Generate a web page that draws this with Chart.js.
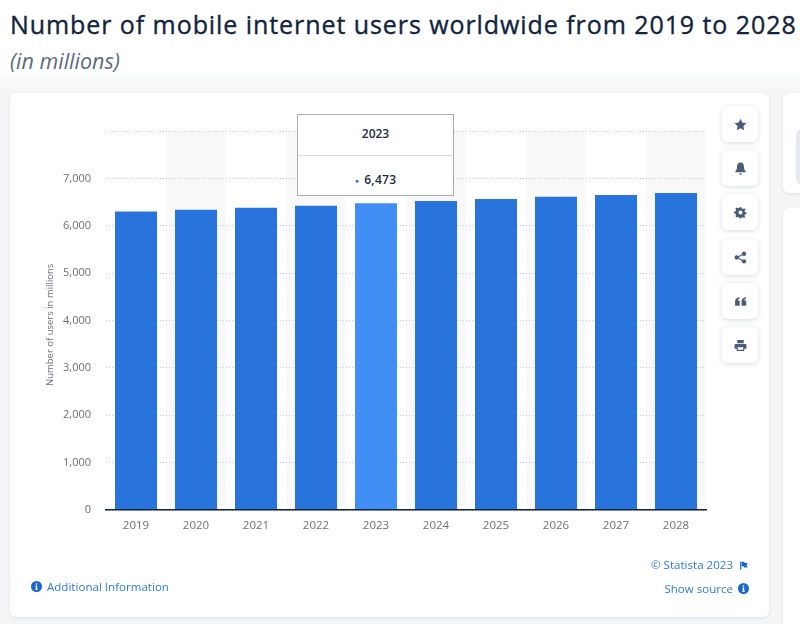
<!DOCTYPE html>
<html>
<head>
<meta charset="utf-8">
<title>Mobile internet users</title>
<script src="https://cdn.jsdelivr.net/npm/chart.js@4/dist/chart.umd.min.js"></script>
<style>
html,body{margin:0;padding:0;width:800px;height:624px;overflow:hidden;font-family:"Open Sans",sans-serif}
body{background:linear-gradient(#fff 0,#fff 68px,#f3f5f7 92px)}
.abs{position:absolute}
#title{left:10px;top:7px;font-size:25px;font-weight:400;-webkit-text-stroke:.35px #10243e;color:#10243e;white-space:nowrap;letter-spacing:.93px;line-height:34px}
#sub{left:10px;top:46px;font-size:21.5px;font-style:italic;font-weight:400;color:#5c6b80;line-height:30px}
.card{background:#fff;border-radius:6px;box-shadow:0 1px 3px rgba(120,135,155,.18)}
#chartCard{left:10px;top:93px;width:759px;height:524px}
#side1{left:783px;top:93px;width:40px;height:100px}
#side2{left:783px;top:208px;width:40px;height:430px}
#sideGrey{left:796px;top:129px;width:20px;height:56px;background:#e6eaef;border-radius:6px}
canvas{position:absolute;left:0;top:0}
#yTitle{left:44px;top:263px;height:124px;writing-mode:vertical-rl;transform:rotate(180deg);font-size:9.5px;line-height:12px;color:#6b6f76;white-space:nowrap;text-align:center}
#tip{left:297px;top:114px;width:155px;height:80px;background:#fff;border:1px solid #a9acb1;text-align:center;color:#1c2b3f;font-size:12px;font-weight:600}
#tipHead{height:40px;line-height:38px;border-bottom:1px solid #d6d9dd}
#tipVal{line-height:48px;letter-spacing:.3px}
#tipVal span{color:#2874dc;margin-right:5px;font-size:7px;vertical-align:1px}
.btn{left:722px;width:36px;height:36px;background:#fff;border-radius:6px;box-shadow:0 1px 5px rgba(120,135,155,.3);display:flex;align-items:center;justify-content:center}
.btn svg{width:13px;height:13px;fill:#4a5d78}
.link{font-size:11.5px;color:#2f78dc;white-space:nowrap;letter-spacing:.03px;line-height:16px}
.dot{width:11px;height:11px}
.dot svg{display:block}
</style>
</head>
<body>
<div class="abs" id="title">Number of mobile internet users worldwide from 2019 to 2028</div>
<div class="abs" id="sub">(in millions)</div>
<div class="abs card" id="chartCard"></div>
<div class="abs card" id="side1"></div>
<div class="abs" id="sideGrey"></div>
<div class="abs card" id="side2"></div>
<canvas id="usersChart" width="800" height="624"></canvas>
<div class="abs" id="yTitle"></div>
<div class="abs" id="tip"><div id="tipHead"></div><div id="tipVal"></div></div>

<div class="abs btn" style="top:106px"><svg viewBox="0 0 24 24"><path d="M12 1.5l3.3 7 7.7 1-5.6 5.3 1.4 7.7-6.8-3.7-6.8 3.7 1.4-7.7L1 9.500l7.700-1z"/></svg></div>
<div class="abs btn" style="top:150px"><svg viewBox="0 0 24 24"><path d="M12 1c4.500 0 6.500 3.500 6.500 8 0 4 1 6 3 8v2H2.500v-2c2-2 3-4 3-8 0-4.500 2-8 6.500-8zM9 21h6a3 2.500 0 0 1-6 0z"/></svg></div>
<div class="abs btn" style="top:194px"><svg viewBox="0 0 24 24"><path fill-rule="evenodd" d="M10 1h4l.6 3 2.400 1 2.600-1.700 2.800 2.800L20 8.700l1 2.300 3 .6v3.800l-3 .6-1 2.400 1.700 2.600-2.800 2.800L17.300 21 15 22l-.6 2h-4.800L9 21.500 6.700 20.500 4 22.200 1.300 19.400 3 16.800 2 14.400-1 13.800V10l3-.6 1-2.300L1.300 4.500 4 1.700 6.700 3.400 9 2.500zM12 8a4 4 0 1 0 0 8 4 4 0 0 0 0-8z" transform="translate(1.200 1.200) scale(.9)"/></svg></div>
<div class="abs btn" style="top:239px"><svg viewBox="0 0 24 24"><circle cx="18.500" cy="5" r="4"/><circle cx="18.500" cy="19" r="4"/><circle cx="5" cy="12" r="4"/><path d="M5 11l13-7 1 2-13 7zM6 11l13 7-1 2-13-7z"/></svg></div>
<div class="abs btn" style="top:283px"><svg viewBox="0 0 24 24"><path d="M2 20v-8c0-4 2-7 8-8v3c-2 .5-3 1.500-3 3h3.500v10zM14 20v-8c0-4 2-7 8-8v3c-2 .5-3 1.500-3 3h3.500v10z"/></svg></div>
<div class="abs btn" style="top:327px"><svg viewBox="0 0 24 24"><path d="M6 2h12v6H6zM3 9h18a2 2 0 0 1 2 2v7h-4v4H5v-4H1v-7a2 2 0 0 1 2-2zM7 15v5h10v-5z"/></svg></div>

<div class="abs dot" style="left:31px;top:581px"><svg viewBox="0 0 24 24" width="11" height="11"><circle cx="12" cy="12" r="12" fill="#1a66d0"/><path d="M10.500 5h3v3h-3zM9.500 10h4v7h1.500v2H9v-2h1.500v-5h-1z" fill="#fff"/></svg></div>
<div class="abs link" style="left:47px;top:579px">Additional Information</div>
<div class="abs link" style="right:67px;top:557px">© Statista 2023</div>
<svg class="abs" style="left:739px;top:560px" width="9" height="11" viewBox="0 0 24 24"><path d="M3 1h3v22H3zM7 2h7l1 3h8l-3 6 3 6H13l-1-3H7z" fill="#1a66d0"/></svg>
<div class="abs link" style="right:67px;top:581px">Show source</div>
<div class="abs dot" style="left:738px;top:583px"><svg viewBox="0 0 24 24" width="11" height="11"><circle cx="12" cy="12" r="12" fill="#1a66d0"/><path d="M10.500 5h3v3h-3zM9.500 10h4v7h1.500v2H9v-2h1.500v-5h-1z" fill="#fff"/></svg></div>

<script>
let years=["2019","2020","2021","2022","2023","2024","2025","2026","2027","2028"]
let users=[6300,6340,6378,6420,6473,6520,6565,6610,6650,6690]
let hoverYear="2023"
let yMax=8000
let yStep=1000
let axisTitle="Number of users in millions"

function fmt(n){
return n.toLocaleString("en-US")
}

// grey bands behind every second year, under the grid lines
let bandsPlugin={
id:"bands",
beforeDraw(c){
let x=c.scales.x
let a=c.chartArea
let w=a.width/years.length
c.ctx.save()
c.ctx.fillStyle="#f9f9fa"
years.forEach(function(y,i){
if(i%2==1) c.ctx.fillRect(x.getPixelForValue(i)-w/2,a.top,w,a.bottom-a.top)
})
c.ctx.restore()
}
}

let barColors=years.map(function(y){return y===hoverYear?"#418ff5":"#2874dc"})

new Chart(document.getElementById("usersChart"),{
type:"bar",
data:{
labels:years,
datasets:[{data:users,backgroundColor:barColors,barPercentage:0.7,categoryPercentage:1}]
},
plugins:[bandsPlugin],
options:{
responsive:false,
animation:false,
events:[],
layout:{padding:{top:131,right:94,bottom:74,left:0}},
plugins:{legend:{display:false},tooltip:{enabled:false}},
scales:{
x:{
afterFit(s){s.height=40},
grid:{display:false},
border:{color:"#10243e",width:1.5,z:1},
ticks:{color:"#6b6f76",padding:1,font:{family:"Open Sans",size:11.5,weight:"500"}}
},
y:{
min:0,
max:yMax,
afterFit(s){s.width=106},
grid:{color:"#c4c9cf",drawTicks:false,lineWidth:1},
border:{display:false,dash:[1,2]},
ticks:{
stepSize:yStep,
padding:15,
color:"#6b6f76",
font:{family:"Open Sans",size:11,weight:"500"},
callback(v){return v===yMax?"":fmt(v)}
}
}
}
}
})

document.getElementById("yTitle").innerText=axisTitle
let idx=years.indexOf(hoverYear)
document.getElementById("tipHead").innerText=years[idx]
document.getElementById("tipVal").innerHTML="<span>●</span>"+fmt(users[idx])
</script>
</body>
</html>
